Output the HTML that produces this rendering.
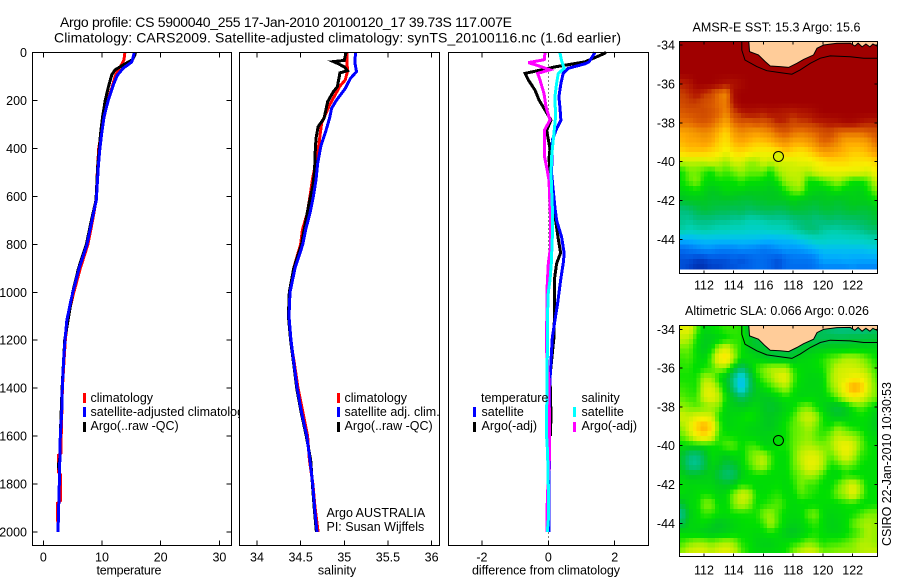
<!DOCTYPE html>
<html>
<head>
<meta charset="utf-8">
<title>Argo profile chart</title>
<style>
html,body{margin:0;padding:0;background:#fff;width:900px;height:580px;overflow:hidden}
svg{display:block}
text{font-family:"Liberation Sans",sans-serif;fill:#000;font-size:12.5px}
.title{font-size:14px}
</style>
</head>
<body>
<svg id="chart" xmlns="http://www.w3.org/2000/svg" width="900" height="580" viewBox="0 0 900 580">
  <defs>
    <clipPath id="legend-clip"><rect x="0" y="0" width="240" height="580"/></clipPath>
    <clipPath id="sst-clip"><rect x="680" y="42" width="197" height="227.5"/></clipPath>
    <clipPath id="sla-clip"><rect x="680" y="326" width="197" height="227"/></clipPath>
  </defs>
  <rect x="0" y="0" width="900" height="580" fill="#fff"/>
  <text class="title" x="60" y="27" textLength="452">Argo profile: CS 5900040_255 17-Jan-2010 20100120_17 39.73S 117.007E</text>
  <text class="title" x="54" y="42.5" textLength="567">Climatology: CARS2009. Satellite-adjusted climatology: synTS_20100116.nc (1.6d earlier)</text>
  <g id="plots"></g>

  <text x="129" y="574.5" text-anchor="middle" textLength="65">temperature</text>
  <text x="337" y="574.5" text-anchor="middle">salinity</text>
  <text x="546" y="574.5" text-anchor="middle" textLength="148">difference from climatology</text>

  <g clip-path="url(#legend-clip)">
    <rect x="83" y="393" width="3" height="10" fill="#f00"/>
    <text x="90.5" y="402">climatology</text>
    <rect x="83" y="407" width="3" height="10" fill="#00f"/>
    <text x="90.5" y="416">satellite-adjusted climatology</text>
    <rect x="83" y="422" width="3" height="10" fill="#000"/>
    <text x="90.5" y="430">Argo(..raw -QC)</text>
  </g>
  <g>
    <rect x="337" y="393" width="3" height="10" fill="#f00"/>
    <text x="344.5" y="402">climatology</text>
    <rect x="337" y="407" width="3" height="10" fill="#00f"/>
    <text x="344.5" y="416">satellite adj. clim.</text>
    <rect x="337" y="422" width="3" height="10" fill="#000"/>
    <text x="344.5" y="430">Argo(..raw -QC)</text>
    <text x="326.5" y="517">Argo AUSTRALIA</text>
    <text x="326.5" y="531">PI: Susan Wijffels</text>
  </g>
  <g>
    <text x="481" y="402">temperature</text>
    <rect x="473" y="407" width="3" height="10" fill="#00f"/>
    <text x="481.5" y="416">satellite</text>
    <rect x="473" y="422" width="3" height="10" fill="#000"/>
    <text x="481.5" y="430">Argo(-adj)</text>
    <text x="581.5" y="402">salinity</text>
    <rect x="573" y="407" width="3" height="10" fill="#0ff"/>
    <text x="581.5" y="416">satellite</text>
    <rect x="573" y="422" width="3" height="10" fill="#f0f"/>
    <text x="581.5" y="430">Argo(-adj)</text>
  </g>

  <text x="692.5" y="31.5" textLength="168">AMSR-E SST: 15.3 Argo: 15.6</text>
  <text x="685" y="315" textLength="184">Altimetric SLA: 0.066 Argo: 0.026</text>
  <text transform="translate(887,546) rotate(-90)" x="0" y="4" textLength="164">CSIRO 22-Jan-2010 10:30:53</text>
</svg>
<script>
// ---- panel 1: temperature ----
const tempClimDepth = [0,30,50,70,95,150,200,300,400,500,616,700,800,900,1000,1100,1200,1300,1400,1500,1600,1670,1680,1750,1760,1870,1880,1950,1960,2000];
const tempClim = [13.9,13.75,13.35,12.8,12.3,11.65,10.97,10.1,9.43,9.2,9.0,8.4,7.6,6.3,5.2,4.2,3.75,3.5,3.25,3.15,3.05,3.05,2.55,2.6,2.9,2.9,2.4,2.4,2.5,2.5];
const tempArgoDepth = [0,10,30,52,73,94,145,198,267,337,476,616,700,800,900,1000,1200,1400,1600,1700,1715,1730,1745,1800,2000];
const tempArgo = [15.7,15.6,15.2,13.6,12.2,11.65,11.07,10.56,10.1,9.77,9.27,8.98,8.2,7.35,6.0,5.0,3.65,3.2,2.9,2.8,2.6,2.6,2.78,2.73,2.5];
const tempSatDepth = [0,10,30,40,66,95,128,198,267,337,408,476,546,616,700,800,900,1000,1035,1118,1200,1285,1400,1500,1600,1800,2000];
const tempSat = [15.45,15.4,15.2,15.05,13.6,12.6,12.05,11.07,10.35,9.95,9.6,9.37,9.2,9.03,8.3,7.45,6.1,5.05,4.7,4.0,3.7,3.45,3.24,3.13,2.9,2.73,2.5];

// ---- panel 2: salinity ----
const salClimDepth = [0,80,115,140,170,220,295,350,420,530,600,670,740,800,900,1000,1100,1200,1300,1400,1500,1600,1700,1800,1900,2000];
const salClim = [35.03,35.035,35.01,34.95,34.905,34.83,34.74,34.72,34.695,34.635,34.607,34.576,34.52,34.5,34.42,34.37,34.36,34.385,34.43,34.47,34.525,34.58,34.6,34.64,34.665,34.7];
const salArgoDepth = [0,33,38,45,60,76,85,100,143,163,205,275,310,358,422,492,560,630,740,800,900,1000,1100,1200,1300,1400,1500,1600,1700,1800,1900,2000];
const salArgo = [35.02,35.0,34.875,34.92,35.0,35.035,34.95,34.943,34.92,34.875,34.81,34.767,34.70,34.676,34.665,34.66,34.638,34.596,34.54,34.51,34.42,34.37,34.36,34.385,34.42,34.455,34.505,34.565,34.615,34.635,34.655,34.68];
const salSatDepth = [0,40,80,108,150,200,233,275,325,393,462,532,602,670,740,800,900,1000,1100,1200,1300,1400,1500,1600,1700,1800,1900,2000];
const salSat = [35.13,35.12,35.14,35.07,35.01,34.91,34.855,34.83,34.79,34.73,34.695,34.676,34.645,34.607,34.557,34.525,34.435,34.378,34.367,34.39,34.424,34.46,34.51,34.57,34.607,34.638,34.66,34.687];

// ---- panel 3: differences ----
const diffTempArgoDepth = [0,10,39,60,87,115,157,198,240,282,325,401,442,640,700,768,836,880,950,1047,1118,1190,1285,1350,1450,1520,1600];
const diffTempArgo = [1.74,1.59,1.1,0.2,-0.70,-0.60,-0.40,-0.28,-0.10,0.08,-0.05,0.05,0.02,0.12,0.22,0.29,0.37,0.25,0.18,0.18,0.18,0.17,0.1,0.05,0.07,0.08,0.06];
const diffTempSatDepth = [0,39,47,66,87,129,185,227,283,318,366,505,645,700,770,838,880,950,1047,1118,1190,1285,1400,2000];
const diffTempSat = [1.406,1.226,1.105,0.60,0.45,0.38,0.32,0.35,0.38,0.25,0.12,0.10,0.20,0.25,0.40,0.48,0.45,0.37,0.28,0.20,0.12,0.08,0.04,0.02];
const diffSalSatDepth = [0,35,66,87,129,185,268,338,435,505,645,700,770,880,950,1000,1118,1257,1530,1600,1670,1810,1950,2000];
const diffSalSat = [0.35,0.40,0.48,0.30,0.25,0.20,0.22,0.17,0.10,0.08,0.12,0.13,0.12,0.09,0.05,0,-0.03,-0.03,-0.05,-0.05,-0.02,0,0,-0.03];
const diffSalArgoDepth = [0,30,42,55,72,87,115,171,227,282,325,429,477,533,700,810,880,990,1060,1230,1370,1500,1700,1860,2000];
const diffSalArgo = [-0.1,-0.12,-0.60,-0.31,0.05,-0.32,-0.25,-0.13,-0.07,0.05,-0.12,-0.12,-0.05,0.02,0.07,0.07,0,-0.04,-0.04,-0.06,0.02,0.03,0.03,-0.03,-0.04];

// ---- tick labels ----
const depthTicks = [0,200,400,600,800,1000,1200,1400,1600,1800,2000];
const tempTicks = [0,10,20,30];
const salTicks = [34,34.5,35,35.5,36];
const diffTicks = [-2,0,2];
const mapLonTicks = [112,114,116,118,120,122];
const mapLatTicks = [-34,-36,-38,-40,-42,-44];

// ---- map grids: 0.5 degree cells ----
const gridLons = [110.5,111,111.5,112,112.5,113,113.5,114,114.5,115,115.5,116,116.5,117,117.5,118,118.5,119,119.5,120,120.5,121,121.5,122,122.5,123,123.5];
const gridLats = [-34,-34.5,-35,-35.5,-36,-36.5,-37,-37.5,-38,-38.5,-39,-39.5,-40,-40.5,-41,-41.5,-42,-42.5,-43,-43.5,-44,-44.5,-45,-45.5];
const sstGrid = [
[20,20,20,20,20,20,20,20,20,20,20,20,20,20,20,20,20,20,20,20,20,20,20,20,20,20,20],
[20,20,20,20,20,20,20,20,20,20,20,20,20,20,20,20,20,20,20,20,20,20,20,20,20,20,20],
[20,20,20,20,20,20,20,20,20,20,20,20,20,20,20,20,20,20,20,20,20,20,20,20,20,20,20],
[20,20,20,20,20,20,20,20,20,20,20,20,20,20,20,20,20,20,20,20,20,20,20,20,20,20,20],
[19.3,19.5,20,20,20,19.8,19.6,19.6,19.8,20,20,20,20,20,20,20,20,20,20,20,20,20,20,20,20,20,20],
[19,19.2,19.5,19.2,18.8,18,17.6,19.8,20,20,20,20,20,20,20,20,20,20,20,20,20,20,20,20,20,20,20],
[18.7,19,19,18.6,18.4,18,17.8,19.6,20,20,20,20,20,20,20,20,20,20,20,20,20,20,20,20,20,20,20],
[18.3,18.5,18.6,18.8,18.5,18.2,17.6,18.8,19.4,19.6,19.5,19.4,19.6,19.5,19.4,19.3,19.5,19.6,19.8,20,20,20,20,20,20,20,20],
[18,18,18.3,18.4,18.2,17.6,17,18,18.4,18.3,18.6,18.4,18.8,19.3,19.2,18.8,19,19,19.3,19.4,19.5,19.6,19.8,19.8,19.6,19.4,19.4],
[17,17.2,17.4,17.6,17.4,16.8,16.4,17.2,17.6,17.4,17.2,17.4,17.6,18.2,18.4,18,17.8,18,18.2,18.6,18.8,18.2,18,18,18,18.3,18.5],
[16.8,17,17,17.2,17,16.5,16.2,16.8,17,16.8,16.6,16.6,16.8,17.2,17.4,17,17,17.2,17.6,18.2,18,17.6,17,17,17,17.2,18],
[16.4,16.6,16.6,16.6,16.4,16.2,15.8,16.3,16.4,16.2,16,16,16,16.2,16.6,16.4,16.2,16.4,16.8,17.2,17.2,17,16.8,16.6,16.6,16.8,17.2],
[15.4,15.4,15.4,15.4,15.6,15.4,15.2,15.6,15.6,15.2,15.2,15.6,15.4,15.6,15.6,15.6,15.8,15.8,16,16.2,16.4,16.4,16.4,16.2,16.2,16.2,16.4],
[14.6,15,15,14.8,14.6,15,14.8,15,15.2,15,15,15,14.6,15.2,15.4,15.5,15.4,15.3,15.6,15.8,15.8,15.8,15.8,15.8,15.8,15.6,16],
[14.6,14.9,15.1,14.6,14.5,14.6,14.6,14.6,14.8,14.6,14.6,14.5,14.4,14.7,15.2,15.3,15.4,14.6,14.6,14.8,15,15.2,14.9,14.6,14.6,14.8,15.4],
[14.4,14.5,14.6,14.4,14.2,14.3,14.5,14.4,14.4,14.3,14.3,14.3,14.2,14.3,14.7,15,15.1,14.5,14.4,14.3,14.5,14.6,14.4,14.4,14.3,14.6,15],
[14.1,14.2,14.2,14.2,14.1,14.1,14.1,14.1,14,14,14.1,14.1,14.2,14.2,14.2,14.4,14.2,14.2,14.1,14.2,14.2,14.1,14.2,14.3,14.3,14.3,14.6],
[13.4,13.5,13.8,14,13.9,13.8,13.8,13.7,13.8,13.6,13.7,13.8,13.8,13.7,13.8,14,14,13.9,13.8,14,14,13.9,14,14.1,14,14,14.2],
[13.3,13.2,13.4,13.4,13.4,13.3,13.3,13.2,13.2,13,13,13.1,13.2,13.2,13.2,13.4,13.5,13.6,13.4,13.5,13.6,13.5,13.6,13.6,13.7,13.8,14],
[13.1,12.9,13,13.1,13,12.9,12.9,12.8,12.8,12.7,12.7,12.7,12.8,12.8,12.9,13.1,13.3,13.5,13.5,13.2,13.1,13.1,13.2,13.2,13.3,13.5,13.6],
[12,12,12.1,12.2,12.2,12.2,12.2,12.2,12.2,12.2,12.2,12.1,12,12.1,12.1,12.2,12.4,12.6,12.8,12.8,12.7,12.7,12.7,12.8,12.8,12.9,13],
[10.8,11,11.2,11.4,11.4,11.2,11.2,11.2,11.4,11.3,11.2,11,11.2,11.4,11.6,11.5,11.6,11.8,12,12.2,12.2,12.2,12.2,12.2,12.2,12.3,12.4],
[10.4,10.4,10.2,10.2,10.4,10.4,10.4,10.6,10.4,10.6,10.8,10.8,10.6,10.4,10.8,11,11,11,11.2,11.8,11.8,11.8,11.9,11.8,11.8,11.8,11.8],
[10.4,10.2,10,10,10.2,10.2,10.4,10.4,10.6,10.6,10.8,10.8,10.6,10.4,10.8,10.8,10.8,10.8,11,11.2,11.2,11.2,11.2,11.4,11.2,11.2,11.2]
];
const slaGrid = [
[.2,.22,.08,0,.02,.04,.06,.06,.05,-.06,-.1,-.1,-.1,-.1,-.1,-.1,-.1,-.1,-.1,-.1,-.14,-.16,-.16,-.16,-.16,-.14,-.12],
[.16,.14,.04,-.02,-.02,0,.03,.05,.05,-.02,-.06,-.08,-.08,-.08,-.08,-.08,-.08,-.08,-.1,-.1,-.08,-.08,-.08,-.07,-.07,-.07,-.06],
[.09,.09,.02,-.03,.02,.14,.2,.1,.04,-.02,-.04,-.05,-.06,-.08,-.08,-.08,-.06,-.04,-.02,-.02,-.01,-.01,-.01,0,0,0,0],
[.06,.07,.03,0,.08,.25,.3,.14,.02,.02,0,-.02,-.05,-.05,-.05,-.04,0,.01,.02,.05,.08,.1,.14,.14,.12,.08,.04],
[.05,.05,.02,.04,.06,.12,.1,-.02,-.12,-.04,.06,.1,.14,.14,.14,.05,.02,.01,.02,.04,.1,.17,.18,.18,.16,.12,.06],
[.04,.04,.04,.13,.12,.03,-.04,-.16,-.36,-.14,.02,.08,.12,.2,.22,.08,.02,0,0,.01,.12,.18,.2,.24,.24,.18,.08],
[.06,.05,.04,.18,.2,.1,-.02,-.14,-.38,-.14,-.02,.02,.06,.1,.14,.05,.01,0,0,.01,.1,.16,.28,.42,.38,.2,.1],
[.08,.06,.06,.18,.22,.16,.02,-.04,-.12,-.06,-.02,-.03,-.02,.01,.04,.02,0,.01,.01,0,.04,.1,.18,.24,.22,.15,.1],
[.12,.1,.08,.1,.12,.1,0,-.01,-.02,-.01,.01,-.03,-.05,-.03,0,.02,.08,.1,.04,0,-.04,-.06,-.02,.04,.08,.05,.01],
[.18,.16,.2,.2,.18,.04,0,.01,.02,.05,.02,-.02,-.03,-.01,.02,.06,.14,.18,.14,.04,-.01,-.04,-.02,.01,.03,.02,-.02],
[.12,.2,.33,.42,.3,.08,0,.01,.02,0,0,-.02,-.03,0,.04,.08,.1,.14,.1,.04,.04,.1,.06,.03,.02,.01,-.02],
[.08,.14,.24,.3,.22,.05,.04,.03,.02,.01,0,-.01,0,.02,.03,.08,.1,.12,.08,.06,.1,.16,.14,.12,.08,.02,0],
[.02,.02,.02,.02,.03,.04,.08,.08,.03,.06,.06,0,0,.04,.04,.08,.12,.14,.12,.1,.12,.2,.24,.2,.1,.04,.02],
[-.04,-.14,-.16,-.08,.02,0,-.02,.02,.01,.08,.12,.14,.06,.02,.02,.08,.16,.2,.2,.14,.08,.14,.22,.16,.06,.04,.02],
[-.04,-.16,-.18,-.1,0,-.02,-.08,-.06,.01,.06,.12,.16,.06,.02,.02,.08,.14,.22,.22,.14,.04,.06,.1,.08,.04,.02,.02],
[0,-.04,-.04,-.02,-.01,-.08,-.14,-.12,-.02,.02,.04,.03,.02,.02,.02,.06,.1,.14,.12,.06,.01,0,.04,.02,.02,.02,.02],
[.02,.01,.01,0,0,-.02,-.04,-.02,.04,.03,.01,.02,.02,.03,.01,.04,.1,.06,.06,.02,.02,.08,.14,.2,.12,.02,.02],
[.02,0,.02,.04,.03,0,.02,.1,.18,.16,.04,.02,.04,.05,.02,.02,.08,.06,.04,.03,.04,.1,.14,.22,.12,.03,.03],
[-.06,.01,.02,.1,.1,.02,.02,.1,.16,.12,.03,.04,.06,.08,.04,.01,.02,.02,.02,.02,.02,.02,.04,.04,.02,.02,.03],
[-.18,-.02,.02,.06,.06,.03,.02,.04,.04,.04,.04,.1,.12,.06,.02,.01,.02,.08,.1,.02,0,.01,.02,.03,.06,.1,.1],
[-.1,0,.01,.02,-.01,-.04,-.02,0,.02,.03,.03,.06,.14,.06,.01,-.01,0,.04,.06,.02,-.01,0,.02,.08,.12,.14,.12],
[.02,0,0,-.02,-.03,-.02,-.01,.01,.02,.02,.01,.02,.04,.02,-.02,-.04,-.01,.02,.04,.02,0,0,.02,.05,.08,.14,.12],
[.06,.1,.12,.12,.1,.12,.14,.12,.05,.03,0,-.01,-.01,.01,.02,.04,.06,.1,.08,.04,.06,.06,.08,.1,.14,.14,.12],
[.12,.18,.2,.2,.16,.2,.22,.18,.08,.04,.01,.01,.01,.02,.04,.1,.16,.2,.18,.1,.1,.12,.12,.12,.14,.16,.16]
];

// ---- coastline and shelf contour, in lon / lat ----
const coastLons = [115.01,115.06,115.66,116.11,116.45,117.12,117.69,118.25,118.70,119.37,119.6,120.04,120.94,121.84,122.15,122.36,122.63,122.89,123.16,123.36,123.63,123.69];
const coastLats = [-33.81,-34.34,-34.51,-34.85,-35.08,-35.11,-35.15,-34.94,-34.74,-34.51,-34.17,-34.0,-33.91,-33.9,-34.05,-33.9,-34.1,-33.95,-34.1,-33.95,-34.05,-33.9];
const shelfLons = [114.54,114.54,114.76,115.55,116.22,117.12,117.91,118.47,119.15,119.82,120.49,121.84,122.74,123.69];
const shelfLats = [-33.81,-34.26,-34.77,-35.11,-35.32,-35.42,-35.5,-35.28,-34.94,-34.68,-34.56,-34.6,-34.68,-34.68];

// ---- Argo float position and values ----
const floatLon = 117.007;
const floatLat = -39.73;
const argoSst = 15.6;
const argoSla = 0.026;

// ---- colour scale (position on scale -> colour) ----
const scaleStops = [10,10.2,10.6,11.2,11.8,12.2,12.6,13,13.4,13.8,14.2,14.6,15,15.3,15.6,16,16.5,17,17.5,18,18.4,19,19.3,20];
const scaleColors = ['#0030b0','#0040c8','#0060e8','#0080f8','#00a8ff','#00c0f0','#00d0d0','#00d0b0','#00c080','#00c050','#00c820','#00e000','#70f000','#b0f000','#d8f000','#f8f000','#ffd000','#ffa800','#f09000','#e87000','#d85800','#c84000','#b82000','#a00000'];

const SVGNS = 'http://www.w3.org/2000/svg';
const root = document.getElementById('plots');

function mk(tag, attrs, parent) {
  const n = document.createElementNS(SVGNS, tag);
  for (const k in attrs) n.setAttribute(k, attrs[k]);
  (parent || root).appendChild(n);
  return n;
}
function rgb(hex) { return [1,3,5].map(i => parseInt(hex.substr(i,2),16)); }
function colorAt(v) {
  if (v <= scaleStops[0]) return scaleColors[0];
  for (let i = 1; i < scaleStops.length; i++) {
    if (v <= scaleStops[i]) {
      const f = (v - scaleStops[i-1]) / (scaleStops[i] - scaleStops[i-1]);
      const a = rgb(scaleColors[i-1]), b = rgb(scaleColors[i]);
      return 'rgb(' + a.map((c,j) => Math.round(c + (b[j]-c)*f)).join(',') + ')';
    }
  }
  return scaleColors[scaleColors.length-1];
}
const slaToScale = v => 14.4 + 6.4 * v;

// axis functions
const yDepth = d => 52.5 + d * 0.23975;
const xTemp = t => 43.3 + t * 5.87;
const xSal = s => 257 + (s - 34) * 87.3;
const xDiff = v => 548.3 + v * 33.2;

function frame(name, l, t, r, b) {
  const f = mk('rect', {x:l, y:t, width:r-l, height:b-t, fill:'none', stroke:'#000', 'stroke-width':1, 'shape-rendering':'crispEdges'});
  
  
}
function xTicks(ticks, xf, t, b, len, labelY, prefix) {
  ticks.forEach(v => {
    const up = mk('line', {x1:xf(v), x2:xf(v), y1:t, y2:t+len, stroke:'#000', 'shape-rendering':'crispEdges'});
    
    
    const dn = mk('line', {x1:xf(v), x2:xf(v), y1:b, y2:b-len, stroke:'#000', 'shape-rendering':'crispEdges'});
    
    
    const lb = mk('text', {x:xf(v), y:labelY, 'text-anchor':'middle'});
    lb.textContent = String(v);
    
    
  });
}
function yTicks(ticks, yf, l, r, len, labelX, prefix) {
  ticks.forEach(v => {
    const a = mk('line', {x1:l, x2:l+len, y1:yf(v), y2:yf(v), stroke:'#000', 'shape-rendering':'crispEdges'});
    
    
    const b = mk('line', {x1:r, x2:r-len, y1:yf(v), y2:yf(v), stroke:'#000', 'shape-rendering':'crispEdges'});
    
    
    const lb = mk('text', {x:labelX, y:yf(v)+4.5, 'text-anchor':'end'});
    lb.textContent = String(v);
    
    
  });
}
function profile(name, depths, values, xf, color) {
  const pts = values.map((v,i) => xf(v).toFixed(1) + ',' + yDepth(depths[i]).toFixed(1)).join(' ');
  const p = mk('polyline', {points:pts, fill:'none', stroke:color, 'stroke-width':3, 'shape-rendering':'crispEdges'});
  
  
}

// panel 1
profile('temperature-climatology-line', tempClimDepth, tempClim, xTemp, '#f00');
profile('temperature-argo-line', tempArgoDepth, tempArgo, xTemp, '#000');
profile('temperature-satellite-line', tempSatDepth, tempSat, xTemp, '#00f');
frame('temperature-plot-frame', 32.5, 52.5, 231.5, 545.5);
xTicks(tempTicks, xTemp, 52.5, 545.5, 5, 561.5, 'temperature');
yTicks(depthTicks, yDepth, 32.5, 231.5, 5, 27, 'depth');

// panel 2
profile('salinity-climatology-line', salClimDepth, salClim, xSal, '#f00');
profile('salinity-argo-line', salArgoDepth, salArgo, xSal, '#000');
profile('salinity-satellite-line', salSatDepth, salSat, xSal, '#00f');
frame('salinity-plot-frame', 239.5, 52.5, 439.5, 545.5);
xTicks(salTicks, xSal, 52.5, 545.5, 5, 561.5, 'salinity');

// panel 3
const zero = mk('line', {x1:xDiff(0), x2:xDiff(0), y1:52.5, y2:545.5, stroke:'#000', 'stroke-dasharray':'1 3', 'shape-rendering':'crispEdges'});


profile('difference-temp-argo-line', diffTempArgoDepth, diffTempArgo, xDiff, '#000');
profile('difference-temp-satellite-line', diffTempSatDepth, diffTempSat, xDiff, '#00f');
profile('difference-sal-argo-line', diffSalArgoDepth, diffSalArgo, xDiff, '#f0f');
profile('difference-sal-satellite-line', diffSalSatDepth, diffSalSat, xDiff, '#0ff');
frame('difference-plot-frame', 448.5, 52.5, 648.5, 545.5);
xTicks(diffTicks, xDiff, 52.5, 545.5, 5, 561.5, 'difference');

// maps: each 0.5 degree value is shaded across four display pixels blended with its neighbours
const xLon = lon => 704 + (lon - 112) * 14.87;
function shade(grid, r, c) {
  const maxR = grid.length - 1, maxC = grid[0].length - 1;
  const rr = Math.min(maxR, Math.max(0, r)), cc = Math.min(maxC, Math.max(0, c));
  const r0 = Math.floor(rr), c0 = Math.floor(cc);
  const r1 = Math.min(maxR, r0 + 1), c1 = Math.min(maxC, c0 + 1);
  const fr = rr - r0, fc = cc - c0;
  return (grid[r0][c0]*(1-fc) + grid[r0][c1]*fc)*(1-fr) + (grid[r1][c0]*(1-fc) + grid[r1][c1]*fc)*fr;
}
function drawMap(prefix, grid, toScale, yLat, top, bottom, clipId, labelY, argoValue) {
  const g = mk('g', {'clip-path':'url(#' + clipId + ')'});
  
  
  const offsets = [-0.25, 0.25];
  grid.forEach((row, r) => {
    row.forEach((_, c) => {
      offsets.forEach(dr => {
        offsets.forEach(dc => {
          const lon = gridLons[c] + dc * 0.5, lat = gridLats[r] - dr * 0.5;
          const x0 = xLon(lon - 0.125), x1 = xLon(lon + 0.125);
          const y0 = yLat(lat + 0.125), y1 = yLat(lat - 0.125);
          const cell = mk('rect', {x:x0.toFixed(1), y:y0.toFixed(1), width:(x1-x0+0.6).toFixed(1), height:(y1-y0+0.6).toFixed(1), fill:colorAt(toScale(shade(grid, r + dr, c + dc))), 'shape-rendering':'crispEdges'}, g);
          
          
        });
      });
    });
  });
  const coastPts = coastLons.map((lon,i) => xLon(lon).toFixed(1) + ',' + yLat(coastLats[i]).toFixed(1));
  const land = mk('polygon', {points:coastPts.join(' ') + ' ' + xLon(123.69).toFixed(1) + ',' + top + ' ' + xLon(115.01).toFixed(1) + ',' + top, fill:'#ffcc99', stroke:'#000', 'stroke-width':1}, g);
  
  
  const shelf = mk('polyline', {points:shelfLons.map((lon,i) => xLon(lon).toFixed(1) + ',' + yLat(shelfLats[i]).toFixed(1)).join(' '), fill:'none', stroke:'#000', 'stroke-width':1}, g);
  
  
  const marker = mk('circle', {cx:xLon(floatLon), cy:yLat(floatLat), r:5, fill:colorAt(toScale(argoValue)), stroke:'#000', 'stroke-width':1});
  
  
  frame(prefix + '-map-frame', 679.5, top, 877.5, bottom);
  xTicks(mapLonTicks, xLon, top, bottom, 3, labelY, prefix + '-lon');
  yTicks(mapLatTicks, yLat, 679.5, 877.5, 3, 675, prefix + '-lat');
}
drawMap('sst', sstGrid, v => v, lat => 45 + (-34 - lat) * 19.45, 41.5, 273.5, 'sst-clip', 289.5, argoSst);
drawMap('sla', slaGrid, slaToScale, lat => 329.3 + (-34 - lat) * 19.4, 325.5, 556.5, 'sla-clip', 574.5, argoSla);
</script>
</body>
</html>
